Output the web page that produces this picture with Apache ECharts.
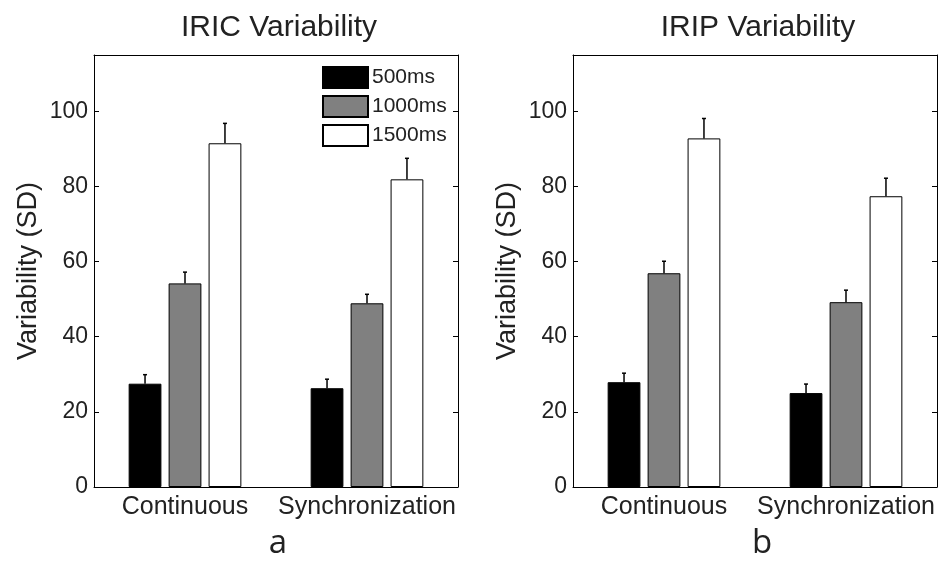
<!DOCTYPE html>
<html>
<head>
<meta charset="utf-8">
<script src="https://cdn.jsdelivr.net/npm/echarts@6/dist/echarts.min.js"></script>
<style>html,body{margin:0;padding:0;background:#fff;}#c{width:943px;height:561px;}</style>
</head>
<body>
<div id="c"></div>
<script>
var categories = ['Continuous', 'Synchronization'];
var seriesNames = ['500ms', '1000ms', '1500ms'];
var panelTitles = ['IRIC Variability', 'IRIP Variability'];
var panelLetters = ['a', 'b'];
var yTicks = [0, 20, 40, 60, 80, 100];

var iric500 = [27.5, 26.3];
var iric1000 = [54.2, 48.9];
var iric1500 = [91.5, 81.9];
var iric500Err = [2.4, 2.4];
var iric1000Err = [3.0, 2.4];
var iric1500Err = [5.3, 5.6];

var irip500 = [27.9, 25.0];
var irip1000 = [56.9, 49.2];
var irip1500 = [92.8, 77.4];
var irip500Err = [2.4, 2.4];
var irip1000Err = [3.2, 3.2];
var irip1500Err = [5.3, 4.8];

var panels = [
  { vals: [iric500, iric1000, iric1500], errs: [iric500Err, iric1000Err, iric1500Err] },
  { vals: [irip500, irip1000, irip1500], errs: [irip500Err, irip1000Err, irip1500Err] }
];

var FONT = "'Liberation Sans', Arial, sans-serif";
var colors = ['#000000', '#808080', '#ffffff'];
var BAR_FRAC = 0.18, GAP_FRAC = 0.22;

var grids = [
  { left: 94, right: 485, top: 55, bottom: 74 },
  { left: 573, right: 6, top: 55, bottom: 74 }
];
var titleCenters = [274, 753];
var letterCenters = [273, 757];

var xAxes = [], yAxes = [], series = [], titles = [];
var axisLineStyle = { color: '#000', width: 1 };
var yMin = 0, yMax = 115, yInt = yTicks[1] - yTicks[0];

grids.forEach(function (g, gi) {
  xAxes.push({
    type: 'category', gridIndex: gi, data: categories, position: 'bottom',
    axisLine: { onZero: false, lineStyle: axisLineStyle },
    axisTick: { inside: true, alignWithLabel: true, length: 5, lineStyle: axisLineStyle },
    axisLabel: { interval: 0, color: '#222', fontSize: 25, fontFamily: FONT, margin: 8 }
  });
  xAxes.push({
    type: 'category', gridIndex: gi, data: categories, position: 'top',
    axisLine: { onZero: false, lineStyle: axisLineStyle },
    axisTick: { inside: true, alignWithLabel: true, length: 5, lineStyle: axisLineStyle },
    axisLabel: { show: false }
  });
  yAxes.push({
    type: 'value', gridIndex: gi, min: yMin, max: yMax, interval: yInt, position: 'left',
    name: 'Variability (SD)', nameLocation: 'middle', nameRotate: 90, nameGap: 52,
    nameTextStyle: { color: '#222', fontSize: 27, fontFamily: FONT },
    axisLine: { show: true, onZero: false, lineStyle: axisLineStyle },
    axisTick: { show: true, inside: true, length: 5, lineStyle: axisLineStyle },
    splitLine: { show: false },
    axisLabel: { color: '#222', fontSize: 23, fontFamily: FONT, margin: 6, showMaxLabel: false,
      formatter: function (v) { return yTicks.indexOf(v) >= 0 ? String(v) : ''; } }
  });
  yAxes.push({
    type: 'value', gridIndex: gi, min: yMin, max: yMax, interval: yInt, position: 'right',
    axisLine: { show: true, onZero: false, lineStyle: axisLineStyle },
    axisTick: { show: true, inside: true, length: 5, lineStyle: axisLineStyle },
    splitLine: { show: false },
    axisLabel: { show: false }
  });

  titles.push({ text: panelTitles[gi], left: titleCenters[gi], top: 8, textAlign: 'center',
    textStyle: { fontSize: 30, fontWeight: 'normal', color: '#222', fontFamily: FONT } });
  titles.push({ text: panelLetters[gi], left: letterCenters[gi], top: 522, textAlign: 'center',
    textStyle: { fontSize: 33, fontWeight: 'normal', color: '#222', fontFamily: "'Open Sans', sans-serif" } });

  var p = panels[gi];
  seriesNames.forEach(function (name, si) {
    series.push({
      type: 'bar', name: name, xAxisIndex: gi * 2, yAxisIndex: gi * 2,
      data: p.vals[si], barWidth: (BAR_FRAC * 100) + '%', barGap: (GAP_FRAC * 100) + '%',
      itemStyle: { color: colors[si], borderColor: '#000', borderWidth: 1 },
      emphasis: { disabled: true }, animation: false
    });
  });
  seriesNames.forEach(function (name, si) {
    var data = categories.map(function (c, ci) { return [ci, p.vals[si][ci], p.errs[si][ci]]; });
    series.push({
      type: 'custom', name: 'err-' + gi + '-' + si, xAxisIndex: gi * 2, yAxisIndex: gi * 2,
      data: data, encode: { x: 0, y: 1 }, z: 5, animation: false, silent: true,
      renderItem: (function (sIdx) {
        return function (params, api) {
          var ci = api.value(0), v = api.value(1), e = api.value(2);
          var band = api.size([1, 0])[0];
          var bw = band * BAR_FRAC, gap = bw * GAP_FRAC;
          var total = 3 * bw + 2 * gap;
          var base = api.coord([ci, v]);
          var top = api.coord([ci, v + e]);
          var x = base[0] - total / 2 + sIdx * (bw + gap) + bw / 2;
          var cap = 2;
          return {
            type: 'group',
            children: [
              { type: 'line', shape: { x1: x, y1: base[1], x2: x, y2: top[1] }, style: { stroke: '#000', lineWidth: 1.5 } },
              { type: 'line', shape: { x1: x - cap, y1: top[1], x2: x + cap, y2: top[1] }, style: { stroke: '#000', lineWidth: 1.5 } }
            ]
          };
        };
      })(si)
    });
  });
});

var chart = echarts.init(document.getElementById('c'), null, { renderer: 'canvas' });
chart.setOption({
  backgroundColor: '#fff',
  animation: false,
  title: titles,
  grid: grids,
  xAxis: xAxes,
  yAxis: yAxes,
  legend: {
    data: seriesNames, left: 322, top: 66, orient: 'vertical', padding: 0,
    itemWidth: 45, itemHeight: 21, itemGap: 6, icon: 'rect',
    textStyle: { fontSize: 21, color: '#222', fontFamily: FONT, padding: [0, 0, 0, -1] },
    selectedMode: false
  },
  series: series
});
</script>
</body>
</html>
